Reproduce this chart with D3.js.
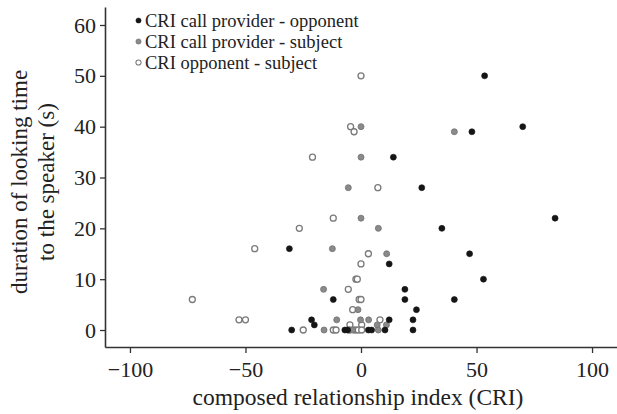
<!DOCTYPE html>
<html><head><meta charset="utf-8">
<script src="https://cdn.jsdelivr.net/npm/d3@7"></script>
<style>body{margin:0;background:#fff}svg{display:block}text{font-family:"Liberation Serif","Times New Roman",serif;fill:#222}</style>
</head><body><svg id="c" width="617" height="414"></svg>
<script>
const seriesNames = ["CRI call provider - opponent","CRI call provider - subject","CRI opponent - subject"];
const xTicks = [-100,-50,0,50,100];
const yTicks = [0,10,20,30,40,50,60];
const providerOpponent = [
 [53.5,50],[48,39],[70,40],[14,34],[26.3,28],[84,22],[35,20],[47,15],[12.2,13],[53,10],
 [19,8],[-12,6],[19,6],[40.4,6],[24,4],[22.5,2],[12.2,2],[-21.4,2],[-20.2,1],[-31,16],
 [-30,0],[22.5,0],[-7,0],[-5.8,0],[3.2,0],[4.6,0],[10.4,0]
];
const providerSubject = [
 [40.4,39],[0,40],[0,34],[-5.5,28],[0,22],[7.5,20],[-12.4,16],[11.1,15],[-16.2,8],[-1.3,4],
 [-10.5,2],[-0.2,2],[3.3,2],[7,1],[11,1],[-16,0],[-3.6,0],[7.5,0]
];
const opponentSubject = [
 [0,50],[-4.5,40],[-3,39],[-21,34],[7.3,28],[-12,22],[-26.7,20],[-46,16],[3.2,15],[0,13],
 [-2.2,10],[-1.6,10],[-5.5,8],[-0.8,6],[0,6],[-3.6,4],[-73,6],[-52.8,2],[-50,2],[8.2,2],
 [-4.8,1],[0.3,1],[-25,0],[-12,0],[-10.8,0],[-5,0],[-2.6,0],[-1.2,0],[0.3,0]
];
const styles = [
 {fill:"#151515", stroke:"#151515", sw:0.6},
 {fill:"#8a8a8a", stroke:"#707070", sw:0.8},
 {fill:"#ffffff", stroke:"#7a7a7a", sw:1.3}
];
const svg = d3.select("#c");
const x = d3.scaleLinear().domain([-110.8,110.8]).range([105,617]);
const y = d3.scaleLinear().domain([-3.34,63.54]).range([347,7]);
const fmt = d3.format("");
const ga = svg.append("g");
const xAxis = ga.append("g").attr("transform","translate(0,347)")
  .call(d3.axisBottom(x).tickValues(xTicks).tickSize(6).tickSizeOuter(0).tickPadding(8).tickFormat(fmt));
const yAxis = ga.append("g").attr("transform","translate(105,0)")
  .call(d3.axisLeft(y).tickValues(yTicks).tickSize(5).tickSizeOuter(0).tickPadding(4).tickFormat(fmt));
[xAxis,yAxis].forEach(a=>{
  a.select(".domain").attr("stroke","#333").attr("stroke-width",1.6);
  a.selectAll(".tick line").attr("stroke","#333").attr("stroke-width",1.3);
  a.selectAll(".tick text").style("font-family","'Liberation Serif',serif").style("font-size","22px").attr("fill","#222");
});
svg.append("text").attr("x",358).attr("y",405).attr("text-anchor","middle").style("font-size","23.5px").text("composed relationship index (CRI)");
const yl = svg.append("g").attr("transform","translate(0,182) rotate(-90)");
yl.append("text").attr("x",0).attr("y",27).attr("text-anchor","middle").style("font-size","23px").text("duration of looking time");
yl.append("text").attr("x",0).attr("y",54).attr("text-anchor","middle").style("font-size","23px").text("to the speaker (s)");
const all = [providerOpponent, providerSubject, opponentSubject];
[2,1,0].forEach(i=>{
  svg.append("g").selectAll("circle").data(all[i]).join("circle")
   .attr("cx",d=>x(d[0])).attr("cy",d=>y(d[1])).attr("r",3)
   .attr("fill",styles[i].fill).attr("stroke",styles[i].stroke).attr("stroke-width",styles[i].sw);
});
const lg = svg.append("g");
seriesNames.forEach((n,i)=>{
  const yy = 20.5 + i*21;
  lg.append("circle").attr("cx",138.5).attr("cy",yy).attr("r",2.6)
    .attr("fill",styles[i].fill).attr("stroke",styles[i].stroke).attr("stroke-width",styles[i].sw*0.8);
  lg.append("text").attr("x",145).attr("y",yy+6).style("font-size","18.5px").text(n);
});
</script></body></html>
